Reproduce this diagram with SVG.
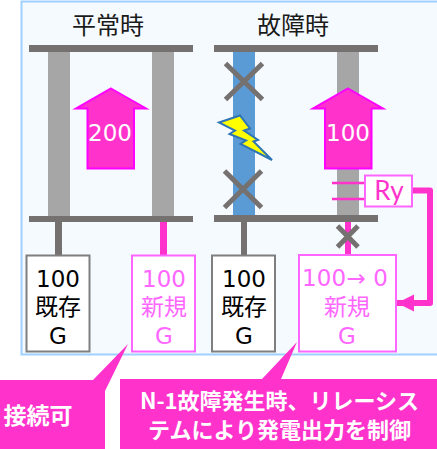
<svg xmlns="http://www.w3.org/2000/svg" width="437" height="449" viewBox="0 0 437 449">
<style>
text{font-family:"DejaVu Sans","Noto Sans CJK JP",sans-serif;text-anchor:middle}
.cjk{font-family:"Noto Sans CJK JP",sans-serif}
.t{font-size:24px;fill:#1a1a1a}
.n{font-size:23px;fill:#000}
.p{font-size:23px;fill:#ff66ff}
.bar{fill:#767171}
.col{fill:#a6a6a6}
.arrow{fill:#ff33cc;stroke:#ff00ff;stroke-width:2}
.box{fill:#fff;stroke:#7f7f7f;stroke-width:2}
.pbox{fill:#fff;stroke:#ff66ff;stroke-width:2}
.x{stroke:#767171;stroke-width:5;fill:none}
.call{fill:#ff33cc}
.ct{font-family:"Noto Sans CJK JP",sans-serif;font-weight:700;font-size:22px;fill:#fff}
</style>
<defs><marker id="ah" markerUnits="userSpaceOnUse" markerWidth="18" markerHeight="18" refX="17" refY="8.5" orient="auto"><path d="M0 0L17 8.5L0 17Z" fill="#ff33cc"/></marker></defs>
<rect id="panel" x="21.500" y="1.500" width="420" height="353" fill="#f5faff" stroke="#9fd0ff" stroke-width="2"/>
<g id="normal-title"><text class="t cjk" x="108" y="34">平常時</text></g>
<g id="fault-title"><text class="t cjk" x="293" y="34">故障時</text></g>
<g id="normal-line">
<rect class="col" x="48" y="50" width="22" height="168"/>
<rect class="col" x="152" y="50" width="22" height="168"/>
<rect class="bar" x="29" y="45" width="164" height="7"/>
<rect class="bar" x="29" y="216" width="164" height="6"/>
</g>
<g id="fault-line">
<rect x="233" y="50" width="22" height="168" fill="#5b9bd5"/>
<rect class="col" x="337" y="50" width="22" height="168"/>
<rect class="bar" x="214" y="45" width="164" height="7"/>
<rect class="bar" x="214" y="215" width="164" height="7"/>
</g>
<g id="connectors">
<path d="M58.500 222V256" stroke="#767171" stroke-width="7" fill="none"/>
<path d="M163.500 222V256" stroke="#ff33cc" stroke-width="7" fill="none"/>
<path d="M244 222V256" stroke="#767171" stroke-width="6" fill="none"/>
<path d="M348 222V255" stroke="#ff33cc" stroke-width="6" fill="none"/>
<path d="M332 183H365M332 199H365" stroke="#ff33cc" stroke-width="2.500" fill="none"/>
<path d="M413 190.500H430V303H397" stroke="#ff33cc" stroke-width="6" fill="none" stroke-linejoin="round" marker-end="url(#ah)"/>
</g>
<g id="flow-200">
<path class="arrow" d="M111 88.500L146 108.500H134V168.500H87.500V108.500H76Z"/>
<text x="110" y="141" style="font-size:23px;fill:#fff">200</text>
</g>
<g id="flow-100">
<path class="arrow" d="M348 88.500L383 108.500H371.500V168.500H325V108.500H313Z"/>
<text x="348" y="141" style="font-size:23px;fill:#fff">100</text>
</g>
<g id="breaks">
<path class="x" d="M225.500 63.500L262.500 99.500M262.500 63.500L225.500 99.500"/>
<path class="x" d="M224.500 171L261.500 207.500M261.500 171L224.500 207.500"/>
<path class="x" d="M337.500 226L358 247M358 226L337.500 247"/>
</g>
<g id="lightning">
<path d="M219 122.500L240 115.500L250 128.500L244 130.500L258 140L253.500 141.500L272 160L240.500 144L246 140.500L229.500 134L235 130.500Z" fill="#ffff00" stroke="#2e75b6" stroke-width="2"/>
</g>
<g id="relay">
<rect class="pbox" x="365" y="175.500" width="47" height="31"/>
<text x="389" y="200" style="font-family:Lato,sans-serif;font-size:26px;fill:#ff33cc">Ry</text>
</g>
<g id="gen-existing-1">
<rect class="box" x="26.500" y="255.500" width="63" height="96"/>
<text class="n" x="58" y="287">100</text><text class="n cjk" x="58" y="315">既存</text><text class="n" x="58" y="344">G</text>
</g>
<g id="gen-new-1">
<rect class="pbox" x="132" y="255.500" width="63" height="96"/>
<text class="p" x="164" y="287">100</text><text class="p cjk" x="164" y="315">新規</text><text class="p" x="164" y="344">G</text>
</g>
<g id="gen-existing-2">
<rect class="box" x="212" y="255.500" width="63" height="96"/>
<text class="n" x="244" y="287">100</text><text class="n cjk" x="244" y="315">既存</text><text class="n" x="244" y="344">G</text>
</g>
<g id="gen-new-2">
<rect class="pbox" x="299" y="255" width="97" height="96.500"/>
<text class="p" x="345" y="286" textLength="86">100→ 0</text><text class="p cjk" x="347" y="315">新規</text><text class="p" x="347" y="344">G</text>
</g>
<g id="callout-left">
<path class="call" d="M0 380H93L128 344L105 391V449H0Z"/>
<text class="ct" x="38" y="424" style="font-size:23px">接続可</text>
</g>
<g id="callout-right">
<path class="call" d="M120 379H262L297 342L281 379H437V449H120Z"/>
<text class="ct" x="279.500" y="409">N-1故障発生時、リレーシス</text>
<text class="ct" x="279.500" y="438">テムにより発電出力を制御</text>
</g>
</svg>
